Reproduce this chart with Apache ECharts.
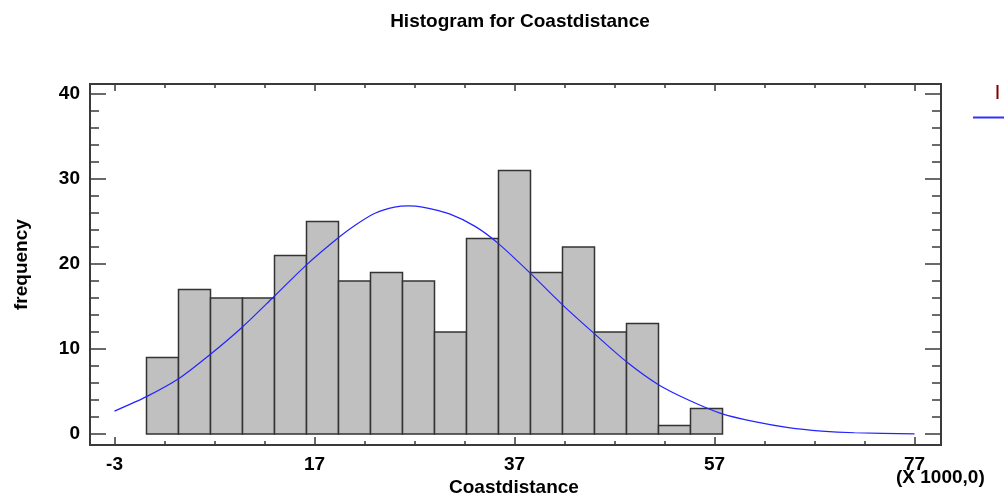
<!DOCTYPE html>
<html>
<head>
<meta charset="utf-8">
<script src="https://cdn.jsdelivr.net/npm/echarts@6/dist/echarts.min.js"></script>
<style>html,body{margin:0;padding:0;background:#fff}#c{width:1004px;height:500px}</style>
</head>
<body>
<div id="c"></div>
<script>
const binEdges = [0.2, 3.4, 6.6, 9.8, 13.0, 16.2, 19.4, 22.6, 25.8, 29.0, 32.2, 35.4, 38.6, 41.8, 45.0, 48.2, 51.4, 54.6, 57.8];
const counts = [9, 17, 16, 16, 21, 25, 18, 19, 18, 12, 23, 31, 19, 22, 12, 13, 1, 3];
const curveX = [-3, 0.2, 3.4, 6.5, 9.8, 12.8, 16.2, 19.5, 21.1, 23.1, 25.0, 26.4, 27.8, 30.5, 33.1, 35.4, 38.6, 41.8, 44.9, 48.2, 51.4, 54.4, 57.7, 61.0, 64.4, 67.7, 71.0, 77];
const curveY = [2.7, 4.4, 6.5, 9.3, 12.6, 16.0, 19.9, 23.2, 24.6, 26.0, 26.7, 26.85, 26.7, 25.9, 24.4, 22.4, 18.9, 15.2, 11.9, 8.5, 5.8, 4.0, 2.4, 1.45, 0.75, 0.35, 0.15, 0.02];
const xMajorTicks = [-3, 17, 37, 57, 77];
const xMinorTicks = [2, 7, 12, 22, 27, 32, 42, 47, 52, 62, 67, 72];
const yMajorTicks = [0, 10, 20, 30, 40];
const yMinorTicks = [2, 4, 6, 8, 12, 14, 16, 18, 22, 24, 26, 28, 32, 34, 36, 38];
const titleText = 'Histogram for Coastdistance';
const xName = 'Coastdistance';
const yName = 'frequency';
const xScaleNote = '(X 1000,0)';

const XMIN = -5.45, XMAX = 79.65, YMIN = -1.29, YMAX = 41.18;
const FONT = 'Liberation Sans, Arial, sans-serif';
const frameColor = '#3a3a3a';

function xAx(pos, ticks, len, labels) {
  return {
    type: 'value', position: pos, min: XMIN, max: XMAX,
    axisLine: { show: true, onZero: false, lineStyle: { color: frameColor, width: 2 } },
    axisTick: { show: true, inside: true, length: len, customValues: ticks, lineStyle: { color: frameColor, width: 1.5 } },
    axisLabel: labels ? { show: true, customValues: ticks, margin: 10, color: '#000', fontFamily: FONT, fontWeight: 'bold', fontSize: 19 } : { show: false },
    splitLine: { show: false }
  };
}
function yAx(pos, ticks, len, labels) {
  return {
    type: 'value', position: pos, min: YMIN, max: YMAX,
    axisLine: { show: true, onZero: false, lineStyle: { color: frameColor, width: 2 } },
    axisTick: { show: true, inside: true, length: len, customValues: ticks, lineStyle: { color: frameColor, width: 1.5 } },
    axisLabel: labels ? { show: true, customValues: ticks, margin: 10, color: '#000', fontFamily: FONT, fontWeight: 'bold', fontSize: 19 } : { show: false },
    splitLine: { show: false }
  };
}

const bars = counts.map((c, i) => [binEdges[i], binEdges[i + 1], c]);
const curve = curveX.map((x, i) => [x, curveY[i]]);

const chart = echarts.init(document.getElementById('c'), null, { renderer: 'canvas' });
chart.setOption({
  animation: false,
  backgroundColor: '#fff',
  title: { text: titleText, left: 515, top: 7, textAlign: 'center',
    textStyle: { fontFamily: FONT, fontWeight: 'bold', fontSize: 19, color: '#000' } },
  grid: { left: 90, top: 84, width: 851, height: 361, containLabel: false },
  xAxis: [
    xAx('bottom', xMajorTicks, 8, true),
    xAx('bottom', xMinorTicks, 4, false),
    xAx('top', xMajorTicks, 7, false),
    xAx('top', xMinorTicks, 4, false)
  ],
  yAxis: [
    yAx('left', yMajorTicks, 16, true),
    yAx('left', yMinorTicks, 9, false),
    yAx('right', yMajorTicks, 16, false),
    yAx('right', yMinorTicks, 9, false)
  ],
  series: [
    {
      type: 'custom', xAxisIndex: 0, yAxisIndex: 0, data: bars,
      renderItem: function (params, api) {
        const p0 = api.coord([api.value(0), 0]);
        const p1 = api.coord([api.value(1), api.value(2)]);
        return {
          type: 'rect',
          shape: { x: p0[0], y: p1[1], width: p1[0] - p0[0], height: p0[1] - p1[1] },
          style: { fill: '#c0c0c0', stroke: '#333333', lineWidth: 1.5 }
        };
      }
    },
    {
      type: 'line', xAxisIndex: 0, yAxisIndex: 0, data: curve, smooth: 0.25,
      showSymbol: false, symbol: 'none',
      lineStyle: { color: '#2424ff', width: 1.2 }
    }
  ],
  graphic: [
    { type: 'text', left: 449, top: 478, style: { text: xName, font: 'bold 19px ' + FONT, fill: '#000' } },
    { type: 'text', x: 896, y: 468, style: { text: xScaleNote, font: 'bold 19px ' + FONT, fill: '#000' } },
    { type: 'text', x: 12, y: 310, rotation: Math.PI / 2, style: { text: yName, font: 'bold 19px ' + FONT, fill: '#000' } },
    { type: 'line', shape: { x1: 997.5, y1: 85, x2: 997.5, y2: 99 }, style: { stroke: '#800000', lineWidth: 2 } },
    { type: 'line', shape: { x1: 973, y1: 117.5, x2: 1004, y2: 117.5 }, style: { stroke: '#3030ff', lineWidth: 2 } }
  ]
});
</script>
</body>
</html>
